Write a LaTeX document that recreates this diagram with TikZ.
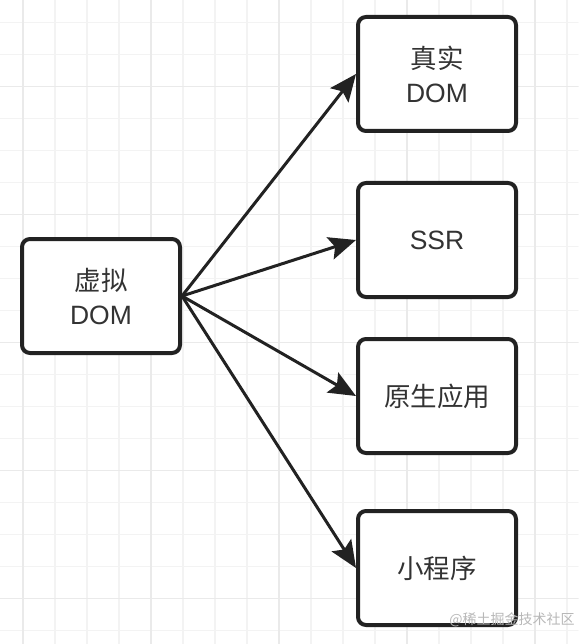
\documentclass[tikz,border=0pt]{standalone}
\usepackage{fontspec}
\setmainfont{Liberation Sans}
\newfontfamily\cjk{Noto Sans CJK SC}
\usetikzlibrary{arrows.meta}
\definecolor{minorgrid}{HTML}{F3F3F3}
\definecolor{majorgrid}{HTML}{EAEAEA}
\definecolor{ink}{HTML}{222222}
\definecolor{txt}{HTML}{333333}
\begin{document}
\begin{tikzpicture}[x=1pt, y=-1pt, line join=round, line cap=round,
    box/.style={draw=ink, fill=white, line width=4pt, rounded corners=8pt,
        minimum width=158pt, minimum height=114pt, align=center, text=txt,
        font=\fontsize{26.5}{34}\selectfont},
    link/.style={draw=ink, line width=3pt, -{Stealth[length=27pt,width=23pt,inset=5pt]}}]
    \useasboundingbox (0,0) rectangle (578,644);
    \fill[white] (0,0) rectangle (578,644);
    % background grid
    \foreach \x in {23,55,...,567} \draw[minorgrid, line width=1.2pt] (\x,0) -- (\x,644);
    \foreach \y in {0,...,19} \draw[minorgrid, line width=1.2pt] (0,22.7+32*\y) -- (578,22.7+32*\y);
    \foreach \x in {23,151,279,407,535} \draw[majorgrid, line width=1.4pt] (\x,0) -- (\x,644);
    \foreach \y in {86.7,214.7,342.7,470.7,598.7} \draw[majorgrid, line width=1.4pt] (0,\y) -- (578,\y);
    % boxes
    \node[box] (vdom) at (101,296) {{\cjk 虚拟}\\DOM};
    \node[box] (real) at (437,74) {{\cjk 真实}\\DOM};
    \node[box] (ssr) at (437,240) {SSR};
    \node[box] (native) at (437,396) {\cjk 原生应用};
    \node[box] (mini) at (437,568) {\cjk 小程序};
    \foreach \t in {real,ssr,native,mini} \draw[link] (vdom.east) -- (\t.west);
    \node[text=black!28, font=\cjk\fontsize{14}{16}\selectfont] (mark) at (512,620) {@稀土掘金技术社区};
\end{tikzpicture}
\end{document}
